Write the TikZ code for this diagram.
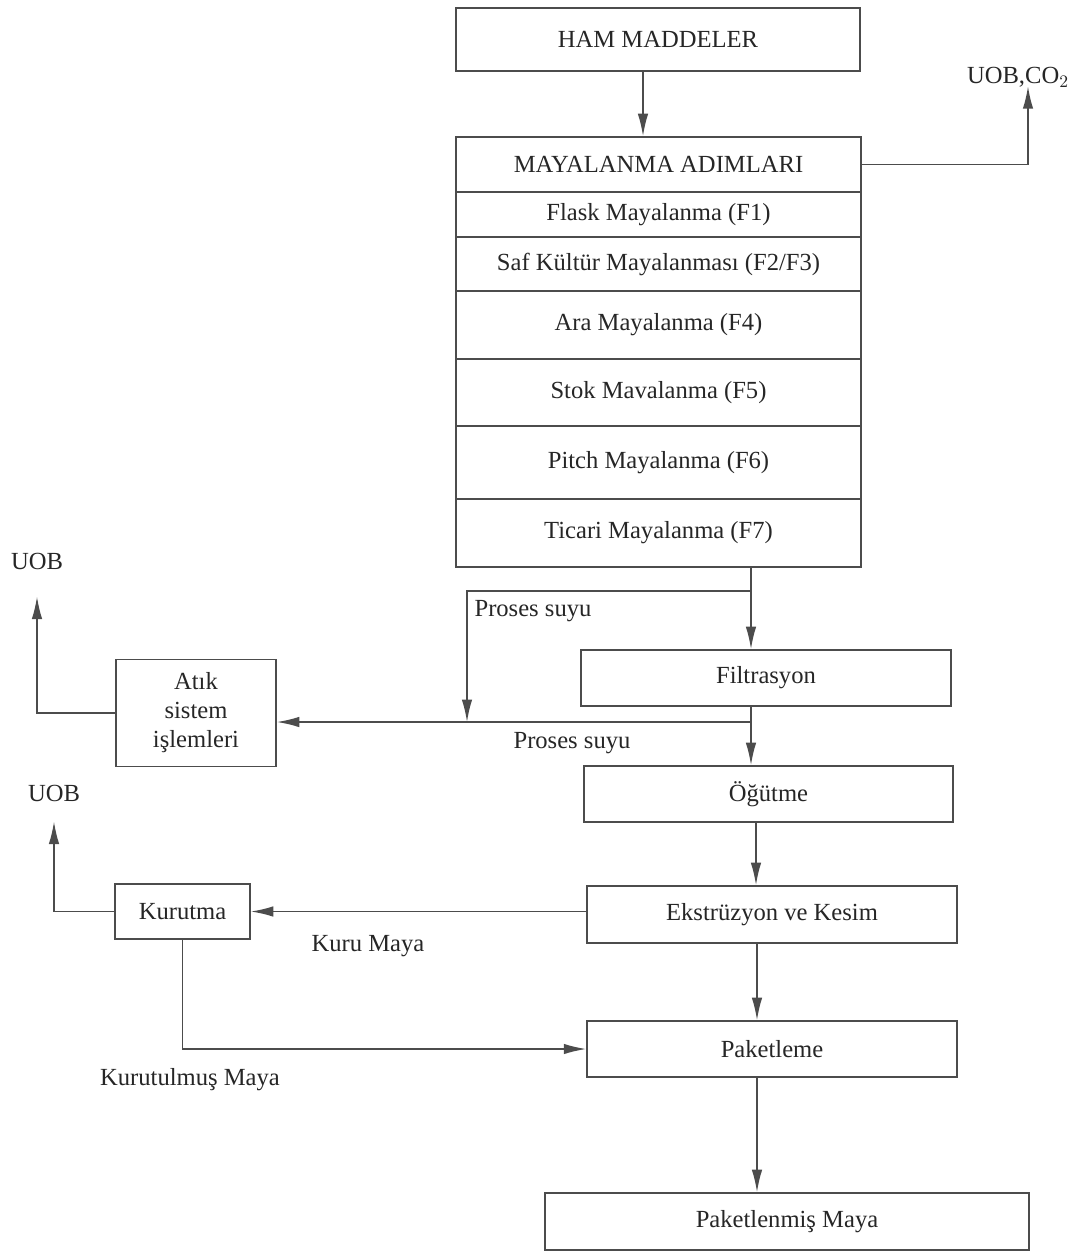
\documentclass[tikz,border=0pt]{standalone}
\usepackage{fontspec}
\setmainfont{Liberation Serif}
\usetikzlibrary{arrows.meta}

\tikzset{
    box/.style={draw=black!70, line width=0.9pt, text=black!85, align=center,
        inner sep=2pt, font=\fontsize{14}{16.5}\selectfont},
    arr/.style={draw=black!70, line width=0.9pt, -{Latex[length=4.5mm,width=2.1mm]}},
    line/.style={draw=black!70, line width=0.9pt},
    lbl/.style={text=black!85, font=\fontsize{14}{16.5}\selectfont}
}

\begin{document}
\begin{tikzpicture}[x=0.02cm, y=-0.02cm]
    \useasboundingbox (0,0) rectangle (1078,1252);
    \node[box, minimum width=8.08cm, minimum height=1.26cm] (ham) at (658,39.5) {HAM MADDELER};
    % fermentation steps, stacked rows
    \foreach \n/\y/\h/\t in {s0/164.5/55/{MAYALANMA ADIMLARI}, s1/214.5/45/{Flask Mayalanma (F1)},
        s2/264/54/{Saf Kültür Mayalanması (F2/F3)}, s3/325/68/{Ara Mayalanma (F4)},
        s4/392.5/67/{Stok Mavalanma (F5)}, s5/462.5/73/{Pitch Mayalanma (F6)},
        s6/533/68/{Ticari Mayalanma (F7)}}{
        \node[box, minimum width=8.1cm, minimum height=\h*0.02cm] (\n) at (658.5,\y) {\t};
    }
    \node[box, minimum width=7.4cm, minimum height=1.12cm] (filt) at (766,678) {Filtrasyon};
    \node[box, minimum width=3.2cm, minimum height=2.14cm] (atik) at (196,713) {Atık\\sistem\\işlemleri};
    \node[box, minimum width=7.38cm, minimum height=1.12cm] (ogut) at (768.5,794) {Öğütme};
    \node[box, minimum width=7.4cm, minimum height=1.14cm] (ekst) at (772,914.5) {Ekstrüzyon ve Kesim};
    \node[box, minimum width=2.7cm, minimum height=1.1cm] (kuru) at (182.5,911.5) {Kurutma};
    \node[box, minimum width=7.4cm, minimum height=1.12cm] (pakt) at (772,1049) {Paketleme};
    \node[box, minimum width=9.68cm, minimum height=1.14cm] (pmaya) at (787,1221.5) {Paketlenmiş Maya};

    \node[lbl] (co) at (1018,77) {UOB,CO$_2$};
    \node[lbl] (uob1) at (37,561) {UOB};
    \node[lbl] (uob2) at (54,793) {UOB};
    \node[lbl] (ps1) at (533,611) {Proses suyu};
    \node[lbl] (ps2) at (572,743) {Proses suyu};
    \node[lbl] (km) at (368,946) {Kuru Maya};
    \node[lbl] (ktm) at (190,1080) {Kurutulmuş Maya};

    \coordinate (split) at (751,591);
    \coordinate (drain) at (467,591);
    \coordinate (pw) at (751,722);

    \draw[arr] (ham.south -| 643,0) -- (643,0 |- s0.north);
    \draw[arr] (s0.east) -| ([yshift=4pt]co.south -| 1028,0);
    \draw[line] (s6.south -| split) -- (split);
    \draw[arr] (split) -- (split |- filt.north);
    \draw[arr] (split) -- (drain) -- (drain |- pw);
    \draw[arr] (filt.south -| pw) -- (pw |- ogut.north);
    \draw[arr] (pw) -- (pw -| atik.east);
    \draw[arr] (atik.west) -| ([yshift=-12pt]uob1.south);
    \draw[arr] (ogut.south -| 756,0) -- (756,0 |- ekst.north);
    \draw[arr] (kuru.east -| ekst.west) -- (kuru.east);
    \draw[arr] (kuru.west) -| ([yshift=-8pt]uob2.south);
    \draw[arr] (kuru.south) |- (pakt.west);
    \draw[arr] (ekst.south -| 757,0) -- (757,0 |- pakt.north);
    \draw[arr] (pakt.south -| 757,0) -- (757,0 |- pmaya.north);
\end{tikzpicture}
\end{document}
